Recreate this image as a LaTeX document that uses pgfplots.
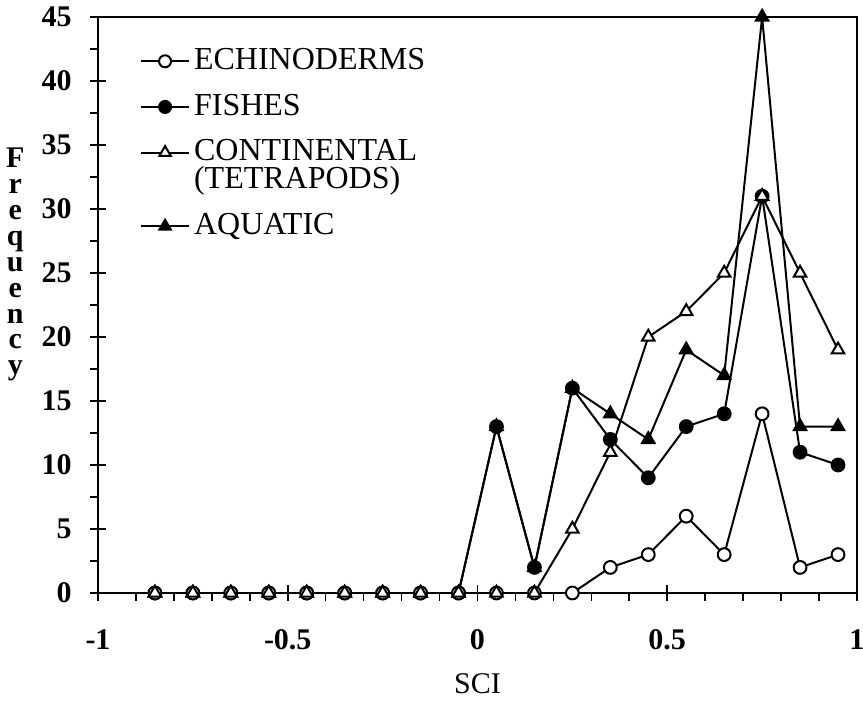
\documentclass[border=0pt]{standalone}
\usepackage{fontspec}
\setmainfont{Liberation Serif}
\usepackage{pgfplots}
\pgfplotsset{compat=1.18}
\pgfplotsset{shiftedlegend/.style={legend image code/.code={\draw[mark repeat=2,mark phase=2,yshift=7pt,##1] plot coordinates {(0pt,0pt)(12pt,0pt)(24pt,0pt)};}}}
\pgfplotstableread{
x     ech  fish cont aqua
-0.85 0    0    0    0
-0.75 0    0    0    0
-0.65 0    0    0    0
-0.55 0    0    0    0
-0.45 0    0    0    0
-0.35 0    0    0    0
-0.25 0    0    0    0
-0.15 0    0    0    0
-0.05 0    0    0    0
0.05  0    13   0    13
0.15  0    2    0    2
0.25  0    16   5    16
0.35  2    12   11   14
0.45  3    9    20   12
0.55  6    13   22   19
0.65  3    14   25   17
0.75  14   31   31   45
0.85  2    11   25   13
0.95  3    10   19   13
}\datatable
\begin{document}
\fontsize{15}{18}\selectfont
\begin{tikzpicture}
\begin{axis}[
  scale only axis, width=379.5pt, height=288pt,
  xmin=-1, xmax=1, ymin=0, ymax=45,
  xtick={-1,-0.5,0.000001,0.5,1}, ytick={0,5,...,45},
  xticklabels={-1,-0.5,0,0.5,1},
  minor xtick={-0.9,-0.8,-0.7,-0.6,-0.4,-0.3,-0.2,-0.1,0.1,0.2,0.3,0.4,0.6,0.7,0.8,0.9},
  minor y tick num=1,
  axis line style={line width=1.2pt},
  tick style={line width=0.8pt, black},
  tick align=center, major tick length=8pt, minor tick length=4pt,
  minor x tick style={yshift=-2pt}, minor y tick style={xshift=-2pt},
  xtick pos=bottom, ytick pos=left,
  /pgf/number format/assume math mode=true,
  ticklabel style={font=\bfseries\fontsize{15}{18}\selectfont},
  xticklabel style={yshift=-9pt},
  yticklabel style={xshift=-4pt},
  xlabel={SCI},
  xlabel style={at={(axis description cs:0.5,-0.158)}, anchor=center, font=\fontsize{15}{18}\selectfont},
  ylabel={\def\arraystretch{0.72}\begin{tabular}{@{}c@{}}F\\r\\e\\q\\u\\e\\n\\c\\y\end{tabular}},
  ylabel style={at={(axis description cs:-0.109,0.569)}, anchor=center, rotate=-90, font=\bfseries\fontsize{15}{18}\selectfont},
  legend style={at={(axis description cs:0.047,0.96)}, anchor=north west, draw=none, fill=none,
    font=\fontsize{16}{14}\selectfont, row sep=6pt, nodes={align=left}},
  legend cell align=left,
  legend image code/.code={\draw[mark repeat=2,mark phase=2,#1] plot coordinates {(0pt,0pt)(12pt,0pt)(24pt,0pt)};},
  every axis plot/.append style={black, line width=1pt, mark options={solid}},
]
\addplot[mark=triangle*, mark size=3.6pt, mark options={fill=black}, forget plot] table[x=x,y=aqua]{\datatable};
\addplot[mark=*, mark size=3.2pt, mark options={fill=black}, forget plot] table[x=x,y=fish]{\datatable};
\addplot[mark=*, mark size=3.2pt, mark options={fill=white}, forget plot] table[x=x,y=ech]{\datatable};
\addplot[mark=triangle*, mark size=3.6pt, mark options={fill=white}, forget plot] table[x=x,y=cont]{\datatable};
\addlegendimage{black, line width=1pt, mark=*, mark size=3pt, mark options={fill=white, solid}}
\addlegendentry{ECHINODERMS}
\addlegendimage{black, line width=1pt, mark=*, mark size=3pt, mark options={fill=black, solid}}
\addlegendentry{FISHES}
\addlegendimage{black, line width=1pt, mark=triangle*, mark size=3.3pt, mark options={fill=white, solid}, shiftedlegend}
\addlegendentry{CONTINENTAL\\(TETRAPODS)}
\addlegendimage{black, line width=1pt, mark=triangle*, mark size=3.3pt, mark options={fill=black, solid}}
\addlegendentry{AQUATIC}
\end{axis}
\pgfresetboundingbox
\path[use as bounding box] ([xshift=-49pt,yshift=-54.5pt]current axis.south west) rectangle ([xshift=3pt,yshift=8.5pt]current axis.north east);
\end{tikzpicture}
\end{document}
